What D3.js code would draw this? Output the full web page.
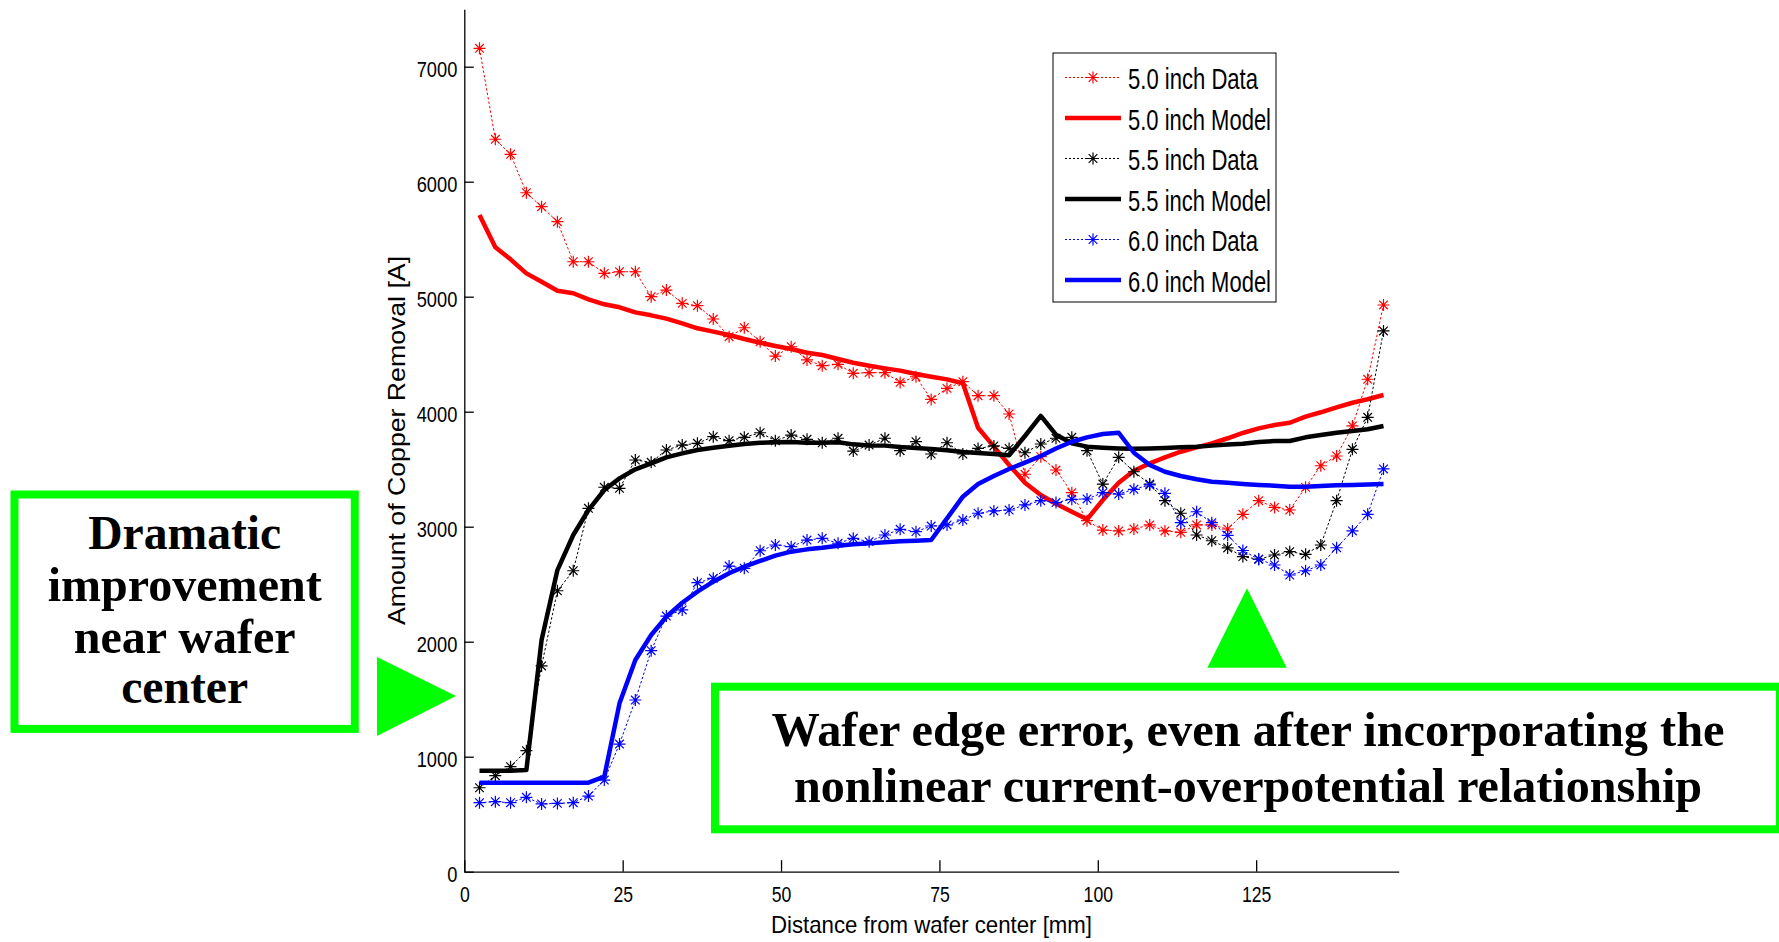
<!DOCTYPE html>
<html>
<head>
<meta charset="utf-8">
<script src="https://cdn.jsdelivr.net/npm/d3@7"></script>
<style>
body { margin: 0; background: #fff; }
svg { display: block; font-family: "Liberation Sans", Arial, sans-serif; }
</style>
</head>
<body>
<div id="chart"></div>
<script>
//distance from wafer center [mm], one per measurement site
const distance = [2.4, 4.9, 7.3, 9.8, 12.2, 14.7, 17.2, 19.6, 22.1, 24.5,
  27.0, 29.5, 31.9, 34.4, 36.8, 39.3, 41.8, 44.2, 46.7, 49.1,
  51.6, 54.1, 56.5, 59.0, 61.4, 63.9, 66.4, 68.8, 71.3, 73.7,
  76.2, 78.7, 81.1, 83.6, 86.0, 88.5, 91.0, 93.4, 95.9, 98.3,
  100.8, 103.3, 105.7, 108.2, 110.6, 113.1, 115.6, 118.0, 120.5, 122.9,
  125.4, 127.9, 130.3, 132.8, 135.2, 137.7, 140.2, 142.6, 145.1];

//amount of copper removal [A]
const data50 = [7160, 6369, 6238, 5904, 5783, 5652, 5304, 5304, 5203, 5217,
  5217, 5000, 5058, 4942, 4922, 4806, 4652, 4730, 4609, 4484,
  4565, 4450, 4400, 4412, 4334, 4340, 4339, 4255, 4304, 4107,
  4203, 4261, 4139, 4139, 3980, 3456, 3609, 3493, 3296, 3052,
  2971, 2963, 2980, 3015, 2963, 2951, 3015, 3015, 2980, 3108,
  3226, 3168, 3145, 3342, 3530, 3615, 3876, 4282, 4928];
const model50 = [5710, 5430, 5325, 5203, 5130, 5052, 5030, 4977, 4934, 4908,
  4864, 4838, 4809, 4768, 4725, 4696, 4667, 4632, 4600, 4571,
  4545, 4513, 4493, 4458, 4426, 4400, 4377, 4357, 4328, 4304,
  4281, 4247, 3861, 3696, 3537, 3383, 3276, 3200, 3130, 3064,
  3232, 3383, 3487, 3551, 3603, 3652, 3690, 3725, 3769, 3815,
  3855, 3884, 3904, 3957, 3995, 4038, 4078, 4108, 4145];
const data55 = [730, 835, 913, 1052, 1789, 2443, 2617, 3160, 3343, 3334,
  3580, 3560, 3667, 3710, 3725, 3783, 3748, 3777, 3817, 3748,
  3797, 3760, 3730, 3769, 3658, 3710, 3769, 3661, 3739, 3632,
  3730, 3632, 3681, 3702, 3681, 3643, 3719, 3769, 3777, 3661,
  3371, 3603, 3478, 3371, 3226, 3117, 2928, 2878, 2815, 2740,
  2717, 2754, 2783, 2760, 2841, 3226, 3673, 3951, 4702];
const model55 = [878, 878, 878, 884, 2015, 2623, 2928, 3145, 3319, 3420,
  3499, 3551, 3603, 3638, 3667, 3687, 3704, 3719, 3730, 3734,
  3737, 3730, 3730, 3734, 3716, 3707, 3705, 3693, 3684, 3676,
  3664, 3650, 3641, 3632, 3621, 3789, 3963, 3800, 3725, 3696,
  3687, 3681, 3678, 3681, 3684, 3690, 3696, 3705, 3714, 3722,
  3737, 3745, 3745, 3777, 3797, 3817, 3832, 3847, 3876];
const data60 = [600, 609, 600, 647, 589, 594, 600, 658, 797, 1110,
  1493, 1922, 2223, 2276, 2513, 2551, 2658, 2638, 2791, 2841,
  2826, 2884, 2899, 2856, 2899, 2870, 2928, 2977, 2957, 3006,
  3015, 3058, 3117, 3137, 3145, 3189, 3226, 3210, 3238, 3241,
  3296, 3284, 3325, 3363, 3290, 3035, 3130, 3035, 2925, 2793,
  2717, 2667, 2580, 2617, 2667, 2817, 2963, 3108, 3502];
const model60 = [774, 774, 774, 774, 774, 774, 774, 774, 826, 1464,
  1841, 2058, 2217, 2339, 2435, 2522, 2595, 2652, 2702, 2748,
  2783, 2803, 2817, 2835, 2847, 2855, 2864, 2873, 2878, 2884,
  3073, 3261, 3371, 3441, 3502, 3557, 3615, 3680, 3739, 3777,
  3806, 3817, 3643, 3537, 3478, 3441, 3412, 3391, 3383, 3372,
  3363, 3357, 3348, 3348, 3354, 3360, 3363, 3368, 3371];

const seriesLabels = ["5.0 inch Data", "5.0 inch Model", "5.5 inch Data", "5.5 inch Model", "6.0 inch Data", "6.0 inch Model"];
const yTicks = [0, 1000, 2000, 3000, 4000, 5000, 6000, 7000];
const xTicks = [0, 25, 50, 75, 100, 125];

const width = 1779, height = 942;
const green = "#00ff00";

//series in plotting order (matlab draws later ones on top)
const series = [
  { label: seriesLabels[0], values: data50, color: "#ff0000", kind: "data" },
  { label: seriesLabels[1], values: model50, color: "#ff0000", kind: "model" },
  { label: seriesLabels[2], values: data55, color: "#000000", kind: "data" },
  { label: seriesLabels[3], values: model55, color: "#000000", kind: "model" },
  { label: seriesLabels[4], values: data60, color: "#0000ff", kind: "data" },
  { label: seriesLabels[5], values: model60, color: "#0000ff", kind: "model" }
];

const svg = d3.select("#chart")
  .append("svg")
  .attr("width", width)
  .attr("height", height);
svg.append("rect").attr("width", width).attr("height", height).attr("fill", "#fff");

const xScale = d3.scaleLinear().domain([0, 147.5]).range([464.3, 1398.7]);
const yScale = d3.scaleLinear().domain([0, 7500]).range([871.7, 9.2]);

//squeeze text horizontally (the original font is a narrow helvetica)
const squeeze = (sel, ratio) => sel.each(function () {
  const w = this.getComputedTextLength();
  d3.select(this).attr("textLength", w * ratio).attr("lengthAdjust", "spacingAndGlyphs");
});

//star marker = plus + cross
const star = "M0,-6V6M-6,0H6M-4.3,-4.3L4.3,4.3M-4.3,4.3L4.3,-4.3";

const lineGen = d3.line()
  .x((d, i) => xScale(distance[i]))
  .y(d => yScale(d));

const plot = svg.append("g");
series.forEach(s => {
  const g = plot.append("g");
  g.append("path")
    .attr("d", lineGen(s.values))
    .attr("fill", "none")
    .attr("stroke", s.color)
    .attr("stroke-width", s.kind === "model" ? 4.5 : 1)
    .attr("stroke-dasharray", s.kind === "model" ? null : "2.5,2")
    .attr("stroke-linejoin", "round");
  if (s.kind === "data") {
    g.selectAll("path.star")
      .data(s.values)
      .join("path")
        .attr("class", "star")
        .attr("d", star)
        .attr("transform", (d, i) => `translate(${xScale(distance[i])},${yScale(d)})`)
        .attr("stroke", s.color)
        .attr("stroke-width", 1.2)
        .attr("fill", "none");
  }
});

//axes, ticks point inward like matlab
const leftAxis = d3.axisLeft(yScale).tickValues(yTicks).tickFormat(d3.format("d"))
  .tickSizeInner(-9.5).tickSizeOuter(0).tickPadding(7);
const yAxisG = svg.append("g")
  .attr("transform", `translate(${xScale(0)},0)`)
  .call(leftAxis);
const bottomAxis = d3.axisBottom(xScale).tickValues(xTicks).tickFormat(d3.format("d"))
  .tickSizeInner(-11.5).tickSizeOuter(0).tickPadding(15);
const xAxisG = svg.append("g")
  .attr("transform", `translate(0,${yScale(0)})`)
  .call(bottomAxis);

[yAxisG, xAxisG].forEach(g => {
  g.attr("font-size", 22).attr("font-family", "Liberation Sans, Arial, sans-serif");
  g.selectAll("path.domain, line").attr("stroke", "#000").attr("stroke-width", 1.3);
  g.selectAll("text").attr("fill", "#000");
});
yAxisG.selectAll("text").attr("dy", "0.45em");
squeeze(yAxisG.selectAll("text"), 0.83);
squeeze(xAxisG.selectAll("text"), 0.8);

//axis labels
svg.append("text")
  .text("Distance from wafer center [mm]")
  .attr("x", (xScale.range()[0] + xScale.range()[1]) / 2)
  .attr("y", 933)
  .attr("text-anchor", "middle")
  .attr("font-size", 24)
  .attr("textLength", 321)
  .attr("lengthAdjust", "spacingAndGlyphs");
svg.append("text")
  .text("Amount of Copper Removal [A]")
  .attr("transform", `translate(405,${(yScale.range()[0] + yScale.range()[1]) / 2}) rotate(-90)`)
  .attr("text-anchor", "middle")
  .attr("font-size", 24)
  .attr("textLength", 369)
  .attr("lengthAdjust", "spacingAndGlyphs");

//legend
const legend = svg.append("g").attr("transform", "translate(1053,53)");
legend.append("rect")
  .attr("width", 223).attr("height", 249)
  .attr("fill", "#fff").attr("stroke", "#000").attr("stroke-width", 1);
const items = legend.selectAll("g.item")
  .data(series)
  .join("g")
    .attr("class", "item")
    .attr("transform", (d, i) => `translate(0,${24.5 + i * 40.5})`);
items.append("line")
  .attr("x1", 12).attr("x2", 68)
  .attr("stroke", d => d.color)
  .attr("stroke-width", d => d.kind === "model" ? 4.5 : 1)
  .attr("stroke-dasharray", d => d.kind === "model" ? null : "2,2");
items.filter(d => d.kind === "data")
  .append("path")
    .attr("d", star)
    .attr("transform", "translate(40,0)")
    .attr("stroke", d => d.color)
    .attr("stroke-width", 1.2)
    .attr("fill", "none");
items.append("text")
  .text(d => d.label)
  .attr("x", 75)
  .attr("y", 11.5)
  .attr("font-size", 29)
  .attr("textLength", d => d.kind === "model" ? 143 : 130)
  .attr("lengthAdjust", "spacingAndGlyphs");

//green call-outs
const notes = svg.append("g").attr("font-family", "Liberation Serif, 'Times New Roman', serif")
  .attr("font-weight", "bold").attr("font-size", 48).attr("text-anchor", "middle");

notes.append("rect")
  .attr("x", 14.5).attr("y", 494.5).attr("width", 340.3).attr("height", 234.4)
  .attr("fill", "#fff").attr("stroke", green).attr("stroke-width", 8);
const leftLines = [
  { t: "Dramatic", y: 549.3, w: 193 },
  { t: "improvement", y: 600.7, w: 274 },
  { t: "near wafer", y: 652.7, w: 222 },
  { t: "center", y: 703.3, w: 127 }
];
notes.selectAll("text.left")
  .data(leftLines)
  .join("text")
    .attr("class", "left")
    .text(d => d.t)
    .attr("x", 184.7).attr("y", d => d.y)
    .attr("textLength", d => d.w).attr("lengthAdjust", "spacingAndGlyphs");
notes.append("path")
  .attr("d", "M377,657L377,736L456,696Z")
  .attr("fill", green);

notes.append("path")
  .attr("d", "M1247,588.3L1207.3,667.7L1286.7,667.7Z")
  .attr("fill", green);
notes.append("rect")
  .attr("x", 715).attr("y", 686.7).attr("width", 1065).attr("height", 142.6)
  .attr("fill", "#fff").attr("stroke", green).attr("stroke-width", 8);
const boxLines = [
  { t: "Wafer edge error, even after incorporating the", y: 746, w: 953 },
  { t: "nonlinear current-overpotential relationship", y: 801.7, w: 908 }
];
notes.selectAll("text.box")
  .data(boxLines)
  .join("text")
    .attr("class", "box")
    .text(d => d.t)
    .attr("x", 1248).attr("y", d => d.y)
    .attr("textLength", d => d.w).attr("lengthAdjust", "spacingAndGlyphs");
</script>
</body>
</html>
